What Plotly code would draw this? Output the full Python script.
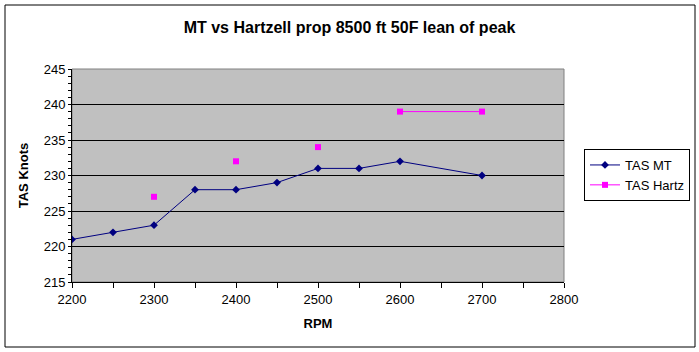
import plotly.graph_objects as go

rpm_mt = [2200, 2250, 2300, 2350, 2400, 2450, 2500, 2550, 2600, 2700]
tas_mt = [221, 222, 223, 228, 228, 229, 231, 231, 232, 230]
rpm_hartz = [2300, 2350, 2400, 2450, 2500, 2550, 2600, 2700]
tas_hartz = [227, None, 232, None, 234, None, 239, 239]

W, H = 699, 352
L, R, T, B = 72, 564, 69, 282
pw, ph = R - L, B - T

def px(x):
    return (x - L) / pw

def py(y):
    return (B - y) / ph

fig = go.Figure()
fig.add_trace(go.Scatter(
    x=rpm_mt, y=tas_mt, name="TAS MT", mode="lines+markers",
    line=dict(color="#000080", width=1),
    marker=dict(symbol="diamond", size=6, color="#000080"),
))
fig.add_trace(go.Scatter(
    x=rpm_hartz, y=tas_hartz, name="TAS Hartz", mode="lines+markers",
    connectgaps=False,
    line=dict(color="#FF00FF", width=1),
    marker=dict(symbol="square", size=6, color="#FF00FF"),
))

font = "Arial, Liberation Sans, sans-serif"
fig.update_layout(
    width=W, height=H,
    margin=dict(l=L, r=W - R, t=T, b=H - B, autoexpand=False),
    paper_bgcolor="white", plot_bgcolor="#C0C0C0",
    font=dict(family=font, size=13, color="black"),
    title=dict(text="<b>MT vs Hartzell prop 8500 ft 50F lean of peak</b>",
               x=0.5, xanchor="center", y=1 - 27 / H, yanchor="middle",
               font=dict(size=16, family=font)),
    showlegend=True,
    legend=dict(x=px(584), y=py(175), xanchor="left", yanchor="middle",
                bordercolor="black", borderwidth=1, bgcolor="white",
                font=dict(size=13, family=font), tracegroupgap=0,
                itemwidth=30),
    xaxis=dict(range=[2200, 2800], dtick=100, tick0=2200, showgrid=False,
               zeroline=False, showline=True, linecolor="black", linewidth=1,
               ticks="outside", ticklen=5, tickcolor="black",
               minor=dict(dtick=50, ticks="outside", ticklen=5, tickcolor="black", showgrid=False),
               title=dict(text="<b>RPM</b>", font=dict(size=13, family=font), standoff=13),
               tickfont=dict(size=13)),
    yaxis=dict(range=[215, 245], dtick=5, tick0=215, showgrid=True,
               gridcolor="black", gridwidth=1,
               zeroline=False, showline=True, linecolor="black", linewidth=1,
               ticks="outside", ticklen=3, tickcolor="black",
               minor=dict(dtick=1, ticks="outside", ticklen=3, tickcolor="black", showgrid=False),
               title=dict(text="<b>TAS Knots</b>", font=dict(size=13, family=font), standoff=12),
               tickfont=dict(size=13)),
    shapes=[
        dict(type="rect", xref="paper", yref="paper", x0=0, x1=1, y0=0, y1=1,
             line=dict(color="#808080", width=1), layer="below"),
        dict(type="rect", xref="paper", yref="paper",
             x0=px(5), x1=px(695), y0=py(347), y1=py(5),
             line=dict(color="black", width=1)),
    ],
)

fig.write_html("out.html")
